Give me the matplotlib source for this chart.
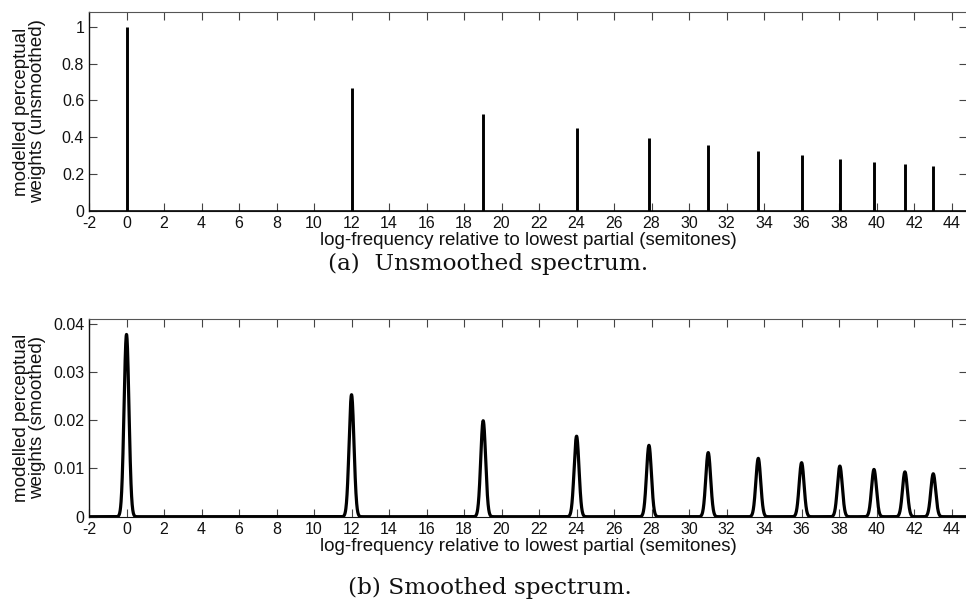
import numpy as np
import matplotlib
matplotlib.use("Agg")
import matplotlib.pyplot as plt

# ---- data ----
partial_pos = [0.0, 12.0, 19.02, 24.0, 27.86, 31.02, 33.69, 36.0, 38.04, 39.86, 41.51, 43.02]
unsmoothed_w = [1.0, 0.668, 0.529, 0.452, 0.398, 0.358, 0.327, 0.305, 0.284, 0.267, 0.254, 0.242]
smoothed_peak = [0.0378, 0.0253, 0.0199, 0.0167, 0.0148, 0.0133, 0.0121, 0.0112, 0.0105, 0.0098, 0.0093, 0.0089]
smooth_sigma = 0.13  # Gaussian smoothing width (semitones)

xticks = list(range(-2, 45, 2))
yticks_top = [0, 0.2, 0.4, 0.6, 0.8, 1.0]
ytick_labels_top = ["0", "0.2", "0.4", "0.6", "0.8", "1"]
yticks_bot = [0, 0.01, 0.02, 0.03, 0.04]
ytick_labels_bot = ["0", "0.01", "0.02", "0.03", "0.04"]

xlabel = "log-frequency relative to lowest partial (semitones)"
ylabel_top = "modelled perceptual\nweights (unsmoothed)"
ylabel_bot = "modelled perceptual\nweights (smoothed)"
caption_a = "(a)  Unsmoothed spectrum."
caption_b = "(b) Smoothed spectrum."

plt.rcParams['font.family'] = ['Liberation Sans', 'DejaVu Sans']

W, H = 966, 606
fig = plt.figure(figsize=(W / 100, H / 100), dpi=100)

def ax_rect(l, r, t, b):
    return [l / W, 1 - b / H, (r - l) / W, (b - t) / H]

ax1 = fig.add_axes(ax_rect(89, 967, 12, 211))
ax2 = fig.add_axes(ax_rect(89, 967, 319, 516.7))

xmin, xmax = -2, 44.82

# top: stems
ax1.axhline(0, color='k', lw=1.9, zorder=3)
ax1.vlines(partial_pos, 0, unsmoothed_w, color='k', lw=2.1, zorder=3)
ax1.set_ylim(0, 1.08)

# bottom: smoothed spectrum
xs = np.linspace(xmin, xmax, 6000)
pos = np.array(partial_pos)[:, None]
amp = np.array(smoothed_peak)[:, None]
ys = (amp * np.exp(-0.5 * ((xs[None, :] - pos) / smooth_sigma) ** 2)).sum(axis=0)
ax2.plot(xs, ys, color='k', lw=2.3, zorder=3, solid_joinstyle='round')
ax2.set_ylim(0, 0.041)

for ax, yt, ytl, yl in [(ax1, yticks_top, ytick_labels_top, ylabel_top),
                        (ax2, yticks_bot, ytick_labels_bot, ylabel_bot)]:
    ax.set_xlim(xmin, xmax)
    ax.set_xticks(xticks)
    ax.set_xticklabels([str(t) for t in xticks])
    ax.set_yticks(yt)
    ax.set_yticklabels(ytl)
    ax.tick_params(direction='in', length=5.5, width=0.8, color='#444444',
                   top=True, right=True, labelsize=11.5, labelcolor='#111111')
    ax.tick_params(axis='x', pad=3.8)
    ax.tick_params(axis='y', pad=3.5)
    for s in ['top', 'right']:
        ax.spines[s].set_color('#555555')
        ax.spines[s].set_linewidth(0.8)
    ax.spines['left'].set_color('#111111')
    ax.spines['left'].set_linewidth(1.0)
    ax.spines['bottom'].set_color('#111111')
    ax.set_xlabel(xlabel, fontsize=13.5, color='#111111', labelpad=0.5)
    ax.set_ylabel(yl, fontsize=13.5, color='#111111', linespacing=0.95)
    ax.yaxis.set_label_coords(-0.049, 0.5)

# captions (serif)
ta = fig.text(488 / W, 1 - 270 / H, caption_a, ha='center', va='baseline',
              family='DejaVu Serif', fontsize=15, color='#111111')
tb = fig.text(490 / W, 1 - 594 / H, caption_b, ha='center', va='baseline',
              family='DejaVu Serif', fontsize=15, color='#111111')
fig.canvas.draw()
r = fig.canvas.get_renderer()
wb = tb.get_window_extent(r).width
fs = 15 * 284.0 / wb
ta.set_fontsize(fs)
tb.set_fontsize(fs)

fig.savefig("out.png", dpi=100)
